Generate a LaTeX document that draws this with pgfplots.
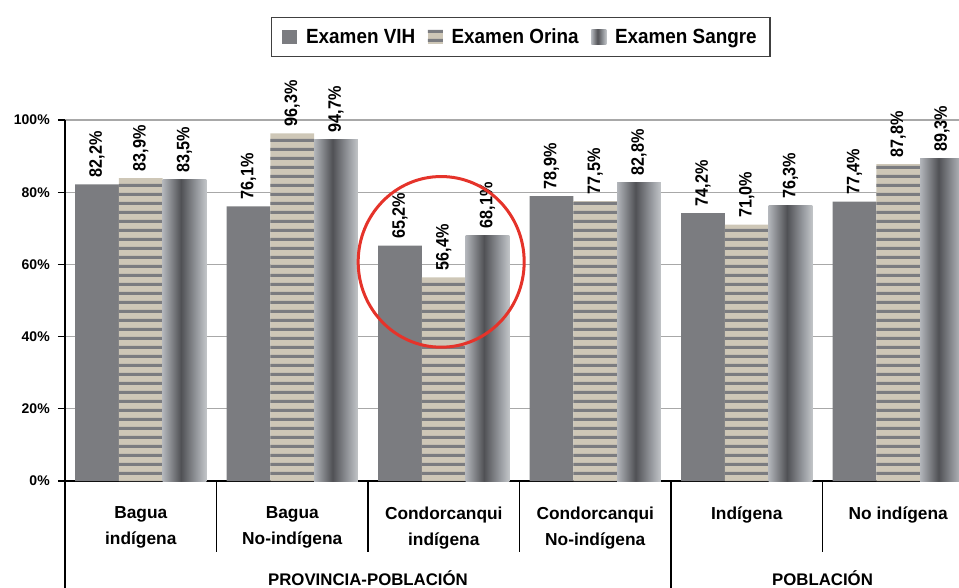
\documentclass[border=0pt]{standalone}
\usepackage{pgfplots}
\pgfplotsset{compat=1.18}
\usepackage{fontspec}
\setmainfont{Liberation Sans}
\newfontfamily\narrowfont{Liberation Sans}[FakeStretch=0.9]
\newfontfamily\legfont{Liberation Sans}[FakeStretch=0.92]
\usetikzlibrary{patterns}
\definecolor{vih}{HTML}{7B7C80}
\definecolor{beige}{HTML}{CEC7B7}
\definecolor{sgL}{HTML}{B2B5BA}
\definecolor{sgD}{HTML}{505155}
\definecolor{sgM}{HTML}{9A9DA2}
\definecolor{sgR}{HTML}{C2C5C8}
\definecolor{gridc}{HTML}{A8A8A8}
\definecolor{circ}{HTML}{E5332A}
\pgfdeclarehorizontalshading{cyl}{100bp}{color(0bp)=(sgL); color(25bp)=(sgL); color(46bp)=(sgD); color(65bp)=(sgM); color(75bp)=(sgR); color(100bp)=(sgR)}
\pgfdeclarepatternformonly{hstripes}{\pgfpoint{0pt}{0pt}}{\pgfpoint{4pt}{6.5pt}}{\pgfpoint{4pt}{6.5pt}}{\pgfpathrectangle{\pgfpoint{-0.2pt}{0pt}}{\pgfpoint{4.4pt}{2.4pt}}\pgfusepath{fill}}
\pgfplotsset{sqlegend/.style={legend image code/.code={\path[##1] (0pt,-5.6pt) rectangle (11.25pt,5.6pt);}},
  sangre/.style={draw=none, shade, shading=cyl, bar shift=32.8pt, sqlegend}}
\begin{document}
\begin{tikzpicture}
\begin{axis}[
  name=ax,
  scale only axis, width=670.5pt, height=270.75pt,
  xmin=-0.5, xmax=5.401, ymin=0, ymax=100,
  axis x line*=bottom, axis y line*=left,
  axis line style={black, line width=0.9pt},
  ybar=0pt, bar width=32.8pt,
  ytick={0,20,...,100},
  yticklabel={\pgfmathprintnumber{\tick}\%},
  ymajorgrids, grid style={gridc, line width=0.8pt},
  tick align=outside, major tick length=5.25pt,
  tick style={black, line width=0.9pt},
  xtick={0,...,5}, xtick style={draw=none},
  xticklabels={Bagua\\indígena, Bagua\\No-indígena, Condorcanqui\\indígena, Condorcanqui\\No-indígena, Indígena, No indígena},
  xticklabel style={align=center, anchor=north, inner sep=0pt, yshift=-14pt, font=\bfseries\fontsize{13}{19.5}\selectfont},
  yticklabel style={font=\bfseries\fontsize{10.5}{12}\selectfont, inner sep=0pt, xshift=-6pt},
  /pgf/number format/assume math mode=true,
  nodes near coords={\pgfmathprintnumber[fixed,fixed zerofill,precision=1,use comma]{\pgfplotspointmeta}\%},
  every node near coord/.append style={rotate=90, anchor=west, inner xsep=5pt, inner ysep=0pt, font=\narrowfont\bfseries\fontsize{13.5}{16}\selectfont, black},
  clip mode=individual,
  legend columns=3,
  legend cell align=left,
  legend style={at={(0.510,1.2299)}, anchor=center, draw=black!75, line width=1pt,
    font=\legfont\bfseries\fontsize{15.4}{18}\selectfont, inner xsep=8pt, inner ysep=6.5pt,
    /tikz/every odd column/.append style={column sep=4.5pt},
    /tikz/every even column/.append style={column sep=7.5pt}},
]
\addplot[fill=vih, draw=none, bar shift=-32.8pt, sqlegend]
  coordinates {(0,82.2) (1,76.1) (2,65.2) (3,78.9) (4,74.2) (5,77.4)};
\addlegendentry{Examen VIH}
\addplot[fill=beige, draw=none, bar shift=0pt, postaction={pattern=hstripes, pattern color=vih}, sqlegend]
  coordinates {(0,83.9) (1,96.3) (2,56.4) (3,77.5) (4,71.0) (5,87.8)};
\addlegendentry{Examen Orina}
\addplot[sangre] coordinates {(0,83.5)};
\addlegendentry{Examen Sangre}
\addplot[sangre, forget plot] coordinates {(1,94.7)};
\addplot[sangre, forget plot] coordinates {(2,68.1)};
\addplot[sangre, forget plot] coordinates {(3,82.8)};
\addplot[sangre, forget plot] coordinates {(4,76.3)};
\addplot[sangre, forget plot] coordinates {(5,89.3)};
\draw[circ, line width=2.25pt] (axis cs:1.983,60.7) ellipse [x radius=62.25pt, y radius=64pt];
\draw[black, line width=0.9pt] (axis cs:0.5,0) -- ++(0pt,-53.25pt);
\draw[black, line width=0.9pt] (axis cs:1.5,0) -- ++(0pt,-53.25pt);
\draw[black, line width=0.9pt] (axis cs:2.5,0) -- ++(0pt,-53.25pt);
\draw[black, line width=0.9pt] (axis cs:4.5,0) -- ++(0pt,-53.25pt);
\draw[black, line width=0.9pt] (axis cs:3.5,0) -- ++(0pt,-82pt);
\draw[black, line width=0.9pt] (axis cs:-0.5,0) -- ++(0pt,-82pt);
\node[anchor=base, inner sep=0pt, font=\bfseries\fontsize{12.6}{14}\selectfont] at ([yshift=-78pt]axis cs:1.5,0) {PROVINCIA-POBLACIÓN};
\node[anchor=base, inner sep=0pt, font=\bfseries\fontsize{12.6}{14}\selectfont] at ([yshift=-78pt]axis cs:4.5,0) {POBLACIÓN};
\end{axis}
\pgfresetboundingbox
\path ([shift={(-48.75pt,-80.25pt)}]ax.south west) rectangle ([shift={(670.5pt,360.75pt)}]ax.south west);
\end{tikzpicture}
\end{document}
